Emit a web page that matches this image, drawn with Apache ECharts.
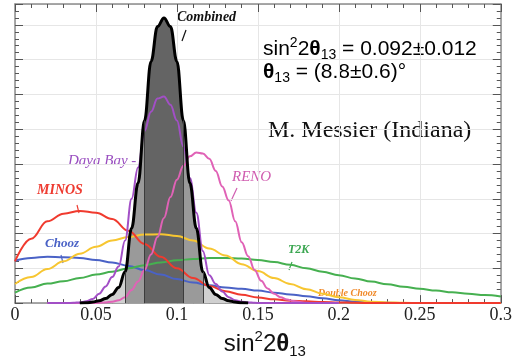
<!DOCTYPE html>
<html>
<head>
<meta charset="utf-8">
<script src="https://cdn.jsdelivr.net/npm/echarts@6/dist/echarts.min.js"></script>
<style>
  html, body { margin: 0; padding: 0; background: #fff; }
  #main { width: 515px; height: 364px; }
</style>
</head>
<body>
<div id="main"></div>
<script>
// sample positions (sin^2 2theta13)
const xsWide = [0, 0.01, 0.02, 0.03, 0.04, 0.05, 0.06, 0.07, 0.08, 0.09, 0.1, 0.11, 0.12, 0.13, 0.14, 0.15,
  0.16, 0.17, 0.18, 0.19, 0.2, 0.21, 0.22, 0.23, 0.24, 0.25, 0.26, 0.27, 0.28, 0.29, 0.3]
const xsNarrow = [0.02, 0.024, 0.028, 0.032, 0.036, 0.04, 0.044, 0.048, 0.052, 0.056, 0.06, 0.064, 0.068,
  0.072, 0.076, 0.08, 0.084, 0.088, 0.092, 0.096, 0.1, 0.104, 0.108, 0.112, 0.116, 0.12, 0.124, 0.128,
  0.132, 0.136, 0.14, 0.144, 0.148, 0.152, 0.156, 0.16, 0.164, 0.168, 0.172, 0.176, 0.18, 0.184, 0.188,
  0.192, 0.196, 0.2]

// broad experiments (on xsWide)
const minos = [1.2, 1.85, 2.35, 2.57, 2.65, 2.6, 2.42, 2.08, 1.7, 1.33, 1.0, 0.72, 0.49, 0.34, 0.24, 0.16,
  0.11, 0.07, 0.05, 0.03, 0.02, 0.01, 0, 0, 0, 0, 0, 0, 0, 0, 0]
const chooz = [1.22, 1.3, 1.33, 1.32, 1.3, 1.24, 1.17, 1.07, 0.95, 0.82, 0.69, 0.59, 0.51, 0.45, 0.41, 0.36,
  0.3, 0.25, 0.2, 0.14, 0.08, 0.04, 0.02, 0.01, 0, 0, 0, 0, 0, 0, 0]
const t2k = [0.3, 0.45, 0.56, 0.63, 0.72, 0.82, 0.9, 1.0, 1.09, 1.17, 1.23, 1.27, 1.3, 1.3, 1.28, 1.24,
  1.18, 1.1, 1.0, 0.9, 0.8, 0.71, 0.62, 0.54, 0.47, 0.41, 0.36, 0.31, 0.27, 0.23, 0.19]
const doubleChooz = [0.55, 0.75, 0.98, 1.2, 1.42, 1.62, 1.8, 1.9, 1.97, 1.98, 1.93, 1.8, 1.57, 1.37, 1.12,
  0.92, 0.72, 0.55, 0.4, 0.27, 0.17, 0.09, 0.04, 0.02, 0.01, 0, 0, 0, 0, 0, 0]

// narrow experiments (on xsNarrow)
const dayaBay = [0, 0, 0, 0, 0.01, 0.02, 0.05, 0.12, 0.27, 0.48, 0.75, 1.05, 1.8, 3.0, 3.9, 4.95, 5.5, 5.88,
  5.94, 5.7, 5.25, 4.5, 3.6, 2.6, 1.5, 0.8, 0.55, 0.33, 0.17, 0.08, 0.04, 0.02, 0.01, 0, 0, 0, 0, 0, 0,
  0, 0, 0, 0, 0, 0, 0]
const reno = [0, 0, 0, 0, 0, 0, 0, 0, 0.01, 0.02, 0.04, 0.08, 0.17, 0.38, 0.62, 0.95, 1.4, 1.9, 2.45, 3.05,
  3.55, 3.95, 4.22, 4.33, 4.3, 4.15, 3.8, 3.35, 2.95, 2.35, 1.75, 1.35, 0.95, 0.64, 0.42, 0.27, 0.17, 0.1,
  0.06, 0.03, 0.01, 0, 0, 0, 0, 0]
const combined = [0, 0, 0, 0, 0, 0, 0.01, 0.03, 0.07, 0.13, 0.25, 0.45, 0.9, 2.15, 3.45, 5.25, 6.95, 7.95,
  8.2, 7.95, 6.95, 5.25, 3.45, 2.15, 0.9, 0.45, 0.25, 0.13, 0.07, 0.03, 0.01, 0, 0, 0, 0, 0, 0, 0, 0, 0,
  0, 0, 0, 0, 0, 0]

// 1 and 2 sigma band edges of the combined fit
const bandEdges = [0.068, 0.08, 0.104, 0.116]
const xTickLabels = ['0', '0.05', '0.1', '0.15', '0.2', '0.25', '0.3']

const chart = echarts.init(document.getElementById('main'))

const pair = (xs, ys) => xs.map((x, i) => [x, ys[i]])
// keep only the part of a curve that leaves the baseline (plus one zero each side)
const trimmed = (xs, ys) => pair(xs, ys).filter((p, i) => ys[i] > 0 || ys[i - 1] > 0 || ys[i + 1] > 0)
const curve = (name, data, color, width) => ({
  type: 'line',
  name: name,
  data: data,
  smooth: 0.4,
  smoothMonotone: 'x',
  showSymbol: false,
  symbol: 'none',
  silent: true,
  lineStyle: { color: color, width: width },
})

const tickCommon = {
  type: 'value',
  min: 0,
  axisLine: { show: true, onZero: false, lineStyle: { color: '#8c8c8c', width: 1.5 } },
  axisTick: { show: true, inside: true, length: 8, lineStyle: { color: '#555', width: 1 } },
  minorTick: { show: true, inside: true, splitNumber: 5, length: 4, lineStyle: { color: '#555', width: 1 } },
}

const serif = 'Liberation Serif'
const sans = 'Liberation Sans'

const label = (text, left, top, color, size, bold) => ({
  type: 'text',
  left: left,
  top: top,
  silent: true,
  style: {
    text: text,
    fill: color,
    font: 'italic ' + (bold ? 'bold ' : '') + size + 'px "' + serif + '"',
  },
})
const leader = (x1, y1, x2, y2, color) => ({
  type: 'line',
  silent: true,
  shape: { x1: x1, y1: y1, x2: x2, y2: y2 },
  style: { stroke: color, lineWidth: 1.2 },
})

const formulaRich = {
  a: { fontFamily: sans, fontSize: 21, lineHeight: 26, color: '#111' },
  t: { fontFamily: sans, fontSize: 21, lineHeight: 26, fontWeight: 'bold', color: '#111' },
  s: { fontFamily: sans, fontSize: 14, verticalAlign: 'top', color: '#111' },
  u: { fontFamily: sans, fontSize: 14, verticalAlign: 'bottom', color: '#111' },
}

const option = {
  animation: false,
  backgroundColor: '#fff',
  grid: { left: 15, right: 11, top: 4, bottom: 51 },
  xAxis: [
    Object.assign({}, tickCommon, {
      max: 0.3,
      interval: 0.05,
      position: 'bottom',
      splitLine: { show: true, lineStyle: { color: '#e6e6e6' } },
      axisLabel: {
        margin: 3,
        fontFamily: serif,
        fontSize: 18,
        color: '#222',
        formatter: (v) => xTickLabels[Math.round(v / 0.05)],
      },
      name: '{a|sin}{s|2}{a|2}{t|θ}{u|13}',
      nameLocation: 'middle',
      nameGap: 17,
      nameTextStyle: {
        padding: [0, 0, 0, 14],
        rich: {
          a: { fontFamily: sans, fontSize: 24, lineHeight: 30, color: '#111' },
          t: { fontFamily: sans, fontSize: 24, lineHeight: 30, fontWeight: 'bold', color: '#111' },
          s: { fontFamily: sans, fontSize: 15, verticalAlign: 'top', color: '#111' },
          u: { fontFamily: sans, fontSize: 15, verticalAlign: 'bottom', color: '#111' },
        },
      },
    }),
    Object.assign({}, tickCommon, {
      max: 0.3,
      interval: 0.05,
      position: 'top',
      splitLine: { show: false },
      axisLabel: { show: false },
    }),
  ],
  yAxis: [
    Object.assign({}, tickCommon, {
      max: 8.6,
      interval: 1,
      position: 'left',
      splitLine: { show: true, lineStyle: { color: '#e6e6e6' } },
      axisLabel: { show: false },
    }),
    Object.assign({}, tickCommon, {
      max: 8.6,
      interval: 1,
      position: 'right',
      splitLine: { show: false },
      axisLabel: { show: false },
    }),
  ],
  visualMap: {
    show: false,
    type: 'piecewise',
    seriesIndex: 0,
    dimension: 0,
    pieces: [
      { lt: 0.068, color: '#d0d0d0' },
      { gte: 0.068, lt: 0.08, color: '#9a9a9a' },
      { gte: 0.08, lt: 0.104, color: '#646464' },
      { gte: 0.104, lt: 0.116, color: '#9a9a9a' },
      { gte: 0.116, color: '#d0d0d0' },
    ],
  },
  series: [
    {
      type: 'line',
      name: 'band',
      data: trimmed(xsNarrow, combined),
      smooth: 0.4,
      smoothMonotone: 'x',
      showSymbol: false,
      symbol: 'none',
      silent: true,
      lineStyle: { width: 0 },
      areaStyle: { opacity: 1 },
      markLine: {
        silent: true,
        symbol: 'none',
        label: { show: false },
        lineStyle: { color: '#3c3c3c', width: 1, type: 'solid' },
        data: bandEdges.map((x) => [
          { coord: [x, 0] },
          { coord: [x, combined[xsNarrow.indexOf(x)]] },
        ]),
      },
    },
    curve('Chooz', pair(xsWide, chooz), '#4a62c6', 2),
    curve('T2K', pair(xsWide, t2k), '#46b050', 2),
    curve('Double Chooz', pair(xsWide, doubleChooz), '#f7c631', 2),
    curve('MINOS', pair(xsWide, minos), '#f03a2e', 2),
    curve('RENO', pair(xsNarrow, reno), '#e062b6', 2),
    curve('Daya Bay', pair(xsNarrow, dayaBay), '#a24fc6', 2),
    curve('Combined', trimmed(xsNarrow, combined), '#000', 3),
  ],
  graphic: [
    label('Combined', 177, 10, '#111', 14, true),
    leader(186, 30, 182, 41, '#111'),
    label('Daya Bay -', 68, 154, '#9a4fc0', 15, false),
    label('RENO', 232, 170, '#d05db0', 15, false),
    leader(237, 188, 231, 201, '#d05db0'),
    label('MINOS', 37, 183, '#ee3a30', 14, true),
    leader(77, 205, 79, 213, '#ee3a30'),
    label('Chooz', 45, 237, '#4a62c6', 13, true),
    leader(61, 255, 63, 263, '#4a62c6'),
    label('T2K', 288, 244, '#3aa650', 12, true),
    leader(292, 262, 289, 270, '#3aa650'),
    label('Double Chooz', 318, 288, '#f08a2a', 10, true),
    {
      type: 'text',
      left: 263,
      top: 36,
      silent: true,
      style: { text: '{a|sin}{s|2}{a|2}{t|θ}{u|13}{a| = 0.092±0.012}', rich: formulaRich },
    },
    {
      type: 'text',
      left: 263,
      top: 62,
      silent: true,
      style: { text: '{t|θ}{u|13}{a| = (8.8±0.6)°}', rich: formulaRich },
    },
    {
      type: 'text',
      left: 268,
      top: 119,
      silent: true,
      style: { text: 'M. Messier (Indiana)', fill: '#111', font: '24px "' + serif + '"' },
    },
  ],
}

chart.setOption(option)
</script>
</body>
</html>
